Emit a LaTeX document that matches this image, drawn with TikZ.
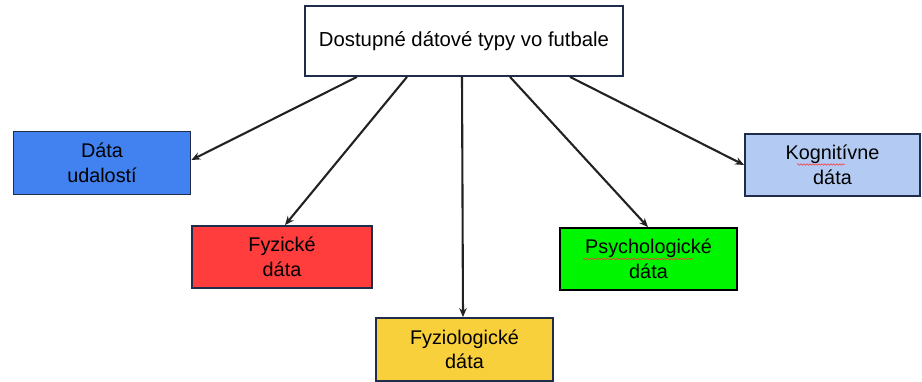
\documentclass[tikz,border=0pt]{standalone}
\usepackage{fontspec}
\setmainfont{Liberation Sans}
\usetikzlibrary{arrows.meta,decorations.pathmorphing}
\definecolor{navy}{HTML}{1F2D4A}
\definecolor{evblue}{HTML}{4282F0}
\definecolor{phred}{HTML}{FF3D3D}
\definecolor{fyyel}{HTML}{F8D03C}
\definecolor{psgreen}{HTML}{00F500}
\definecolor{koglb}{HTML}{B3CBF3}
\definecolor{arr}{HTML}{222222}
\tikzset{
  box/.style={draw=navy, line width=1.8pt, rectangle, align=center, inner sep=0pt,
    font=\fontsize{19.8pt}{24.5pt}\selectfont, text=black},
  conn/.style={draw=arr, line width=2.1pt, -{Stealth[length=9pt,width=7.5pt]}},
  spell/.style={draw=red!80, line width=0.5pt, decorate, decoration={snake, amplitude=0.8pt, segment length=3pt}}
}
\begin{document}
\begin{tikzpicture}[x=1pt,y=-1pt]
\useasboundingbox (0,0) rectangle (922,382);
\node[box, fill=white, minimum width=318pt, minimum height=70pt, font=\fontsize{20.3pt}{24pt}\selectfont] (top) at (464,41) {Dostupné dátové typy vo futbale};
\node[box, fill=evblue, minimum width=177pt, minimum height=63pt] (ev) at (102,163) {Dáta\\udalostí};
\node[box, fill=phred, minimum width=180pt, minimum height=62pt] (ph) at (282,257) {Fyzické\\dáta};
\node[box, fill=fyyel, minimum width=177pt, minimum height=63pt] (fy) at (464.5,349.5) {Fyziologické\\dáta};
\node[box, draw=black, fill=psgreen, minimum width=177pt, minimum height=62pt] (ps) at (648.5,259) {Psychologické\\dáta};
\node[box, fill=koglb, minimum width=175pt, minimum height=62pt] (kg) at (832.5,165) {Kognitívne\\dáta};
\draw[conn] ([xshift=-107pt]top.south) -- ([yshift=3pt]ev.east);
\draw[conn] ([xshift=-57pt]top.south) -- ([xshift=3pt]ph.north);
\draw[conn] ([xshift=-2pt]top.south) -- ([xshift=-1.5pt]fy.north);
\draw[conn] ([xshift=46pt]top.south) -- ([xshift=-0.5pt]ps.north);
\draw[conn] ([xshift=106pt]top.south) -- (kg.west);
\coordinate (kgs1) at (797,164.5);
\coordinate (kgs2) at (845,164.5);
\coordinate (pss1) at (583,259);
\coordinate (pss2) at (693,259);
\draw[spell] (kgs1) -- (kgs2);
\draw[spell] (pss1) -- (pss2);
\end{tikzpicture}
\end{document}
